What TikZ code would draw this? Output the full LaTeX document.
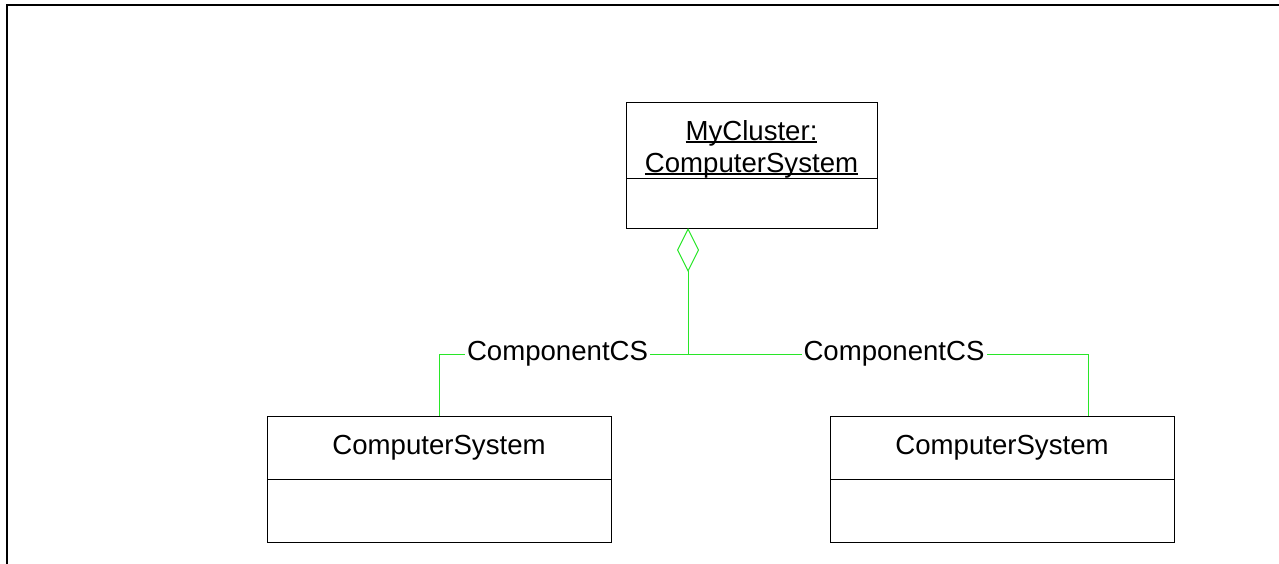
\documentclass[tikz,border=0pt]{standalone}
\usepackage{fontspec}
\setmainfont{Liberation Sans}
\usetikzlibrary{positioning,arrows.meta}
\definecolor{linkgreen}{RGB}{40,230,40}
\newcommand{\uname}[1]{\setbox0\hbox{#1}\rlap{\rule[-2.5pt]{\wd0}{1.2pt}}\box0}
\tikzset{%
    clsname/.style={draw, line width=1pt, outer sep=0pt, align=center,
        font=\fontsize{27.6}{32}\selectfont},
    clsbody/.style={draw, line width=1pt, outer sep=0pt},
    assoc/.style={linkgreen, line width=1pt},
    agg/.style={assoc, -{Diamond[open,length=44pt,width=22pt]}},
    role/.style={fill=white, inner sep=2pt, text=black,
        font=\fontsize{27.6}{32}\selectfont}
}

\begin{document}
\begin{tikzpicture}[x=1pt,y=-1pt]
    \useasboundingbox (0,0) rectangle (1279,564);
    \draw[line width=2pt] (7,564)--(7,5)--(1279,5);
    % the cluster object
    \node[clsname, minimum width=251pt, minimum height=76pt, inner ysep=0pt, text height=68pt] (cluster) at (751.5,141)
        {\uname{MyCluster:}\\\uname{ComputerSystem}};
    \node[clsbody, minimum width=251pt, minimum height=49pt, below=0pt of cluster] (clusterbody) {};
    % the two parts
    \node[clsname, minimum width=344pt, minimum height=63pt] (lsys) at (439,447.5) {ComputerSystem};
    \node[clsbody, minimum width=344pt, minimum height=63pt, below=0pt of lsys] (lsysbody) {};
    \node[clsname, minimum width=344pt, minimum height=63pt] (rsys) at (1002,447.5) {ComputerSystem};
    \node[clsbody, minimum width=344pt, minimum height=63pt, below=0pt of rsys] (rsysbody) {};
    % links
    \coordinate (join) at (688,354);
    \draw[agg] (join) -- (join |- clusterbody.south);
    \draw[assoc] (join) -| node[role, pos=0.262] {ComponentCS} (lsys.north);
    \draw[assoc] (join) -| node[role, pos=0.2575] {ComponentCS} ([xshift=-86pt]rsys.north east);
\end{tikzpicture}
\end{document}
